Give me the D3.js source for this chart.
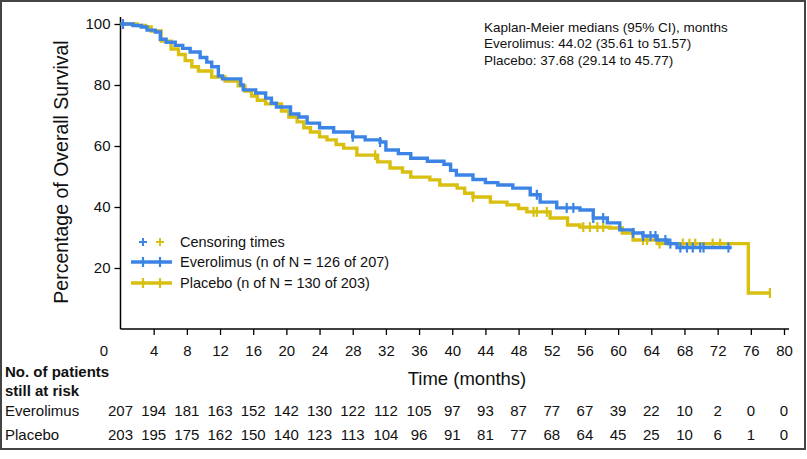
<!DOCTYPE html>
<html><head><meta charset="utf-8">
<script src="https://cdn.jsdelivr.net/npm/d3@7"></script>
<style>body{margin:0;background:#fff}svg{display:block;font-family:"Liberation Sans",Arial,sans-serif}</style>
</head><body><svg id="c" width="807" height="459"></svg>
<script>
// ---- data ----
const xTicks = [0,4,8,12,16,20,24,28,32,36,40,44,48,52,56,60,64,68,72,76,80];
const yTicks = [20,40,60,80,100];
const everolimusSteps = [[0,100],[1.5,99.5],[2.5,99],[3.2,98],[4.2,97.4],[4.8,95],[5.5,94],[6.6,93],[7.5,92],[8.4,90.8],[9.6,89],[10.4,87.5],[11,86],[11.8,83],[12.3,82],[14.5,80],[14.8,78.4],[16.3,77.4],[17.5,75.7],[18.2,74],[18.8,72.8],[20.5,70.5],[21.5,69.5],[22.5,67.5],[24,66],[25.7,64.6],[28,63],[29.5,62],[31.3,61.3],[32,58.7],[33.5,57.5],[35,56],[37,55],[39,54],[39.8,52],[40.5,50.5],[42.5,49],[44,48],[45.5,47.2],[47.3,46.2],[49.4,44],[50.6,41.6],[52.6,39.7],[55.4,39],[57,36.4],[58.7,34.8],[60.2,32.5],[61.8,31.5],[63,30.5],[64.7,29.2],[66,28],[67.1,26.7],[73.7,26.7]];
const placeboSteps = [[0,100],[2,99.5],[3,99],[3.7,97.7],[4.9,94.4],[6.1,91.8],[7,90],[7.8,88],[8.6,86],[9.4,84.6],[11,82.6],[12.6,81.3],[14.2,79.7],[15,78],[15.8,76.4],[16.5,75],[17.5,73.8],[19.4,71.5],[20.3,69.5],[21.3,67.9],[22.1,66],[22.9,64.6],[24,63],[24.9,62],[26,60.5],[26.9,59.3],[28.5,57],[31,54.8],[32.5,52.8],[34,51.5],[35,49.8],[37.3,48.9],[38.5,47.2],[40.6,46.2],[41.5,44.5],[42.5,43.3],[44.6,41.6],[46.6,40.7],[48,39.5],[49,38.4],[51.8,36.4],[53.9,34.1],[55.4,33.4],[59,33.1],[60.5,31.5],[61.8,29.2],[64.7,28],[75.7,11.8],[78.3,11.8]];
const everolimusCensor = [0.3,28,31.3,50.2,53.8,54.6,57,58.2,61.8,63,63.9,64.5,65.7,66.3,67.5,68.3,69,69.9,70.3,73.3];
const placeboCensor = [30.7,42.5,49.8,50.2,51.4,55.8,56.6,57.5,58.2,63,63.5,65,67.8,68.6,69.3,71.4,72.3,78.3];
const riskEverolimus = [207,194,181,163,152,142,130,122,112,105,97,93,87,77,67,39,22,10,2,0,0];
const riskPlacebo = [203,195,175,162,150,140,123,113,104,96,91,81,77,68,64,45,25,10,6,1,0];
const medianLines = ["Kaplan-Meier medians (95% CI), months","Everolimus: 44.02 (35.61 to 51.57)","Placebo: 37.68 (29.14 to 45.77)"];
const legendLabels = ["Censoring times","Everolimus (n of N = 126 of 207)","Placebo (n of N = 130 of 203)"];

const BLUE = "#3b84e6", YEL = "#d8bf10";
const svg = d3.select("#c");
svg.append("rect").attr("x",1).attr("y",1).attr("width",804).attr("height",448).attr("fill","none").attr("stroke","#444").attr("stroke-width",2);

const x = d3.scaleLinear().domain([0,80]).range([120.5,784]);
const y = d3.scaleLinear().domain([0,100]).range([329,24]);

// axes
const gy = svg.append("g").attr("transform","translate(120.5,0)")
  .call(d3.axisLeft(y).tickValues(yTicks).tickSize(6).tickPadding(4));
gy.select(".domain").attr("d","M0,17V329").attr("stroke-width",1.5);
gy.selectAll("text").attr("font-size",15).attr("fill","#111");
gy.selectAll("line").attr("stroke-width",1.3);
const gx = svg.append("g").attr("transform","translate(0,329)")
  .call(d3.axisBottom(x).tickValues(xTicks).tickSize(6).tickPadding(10));
gx.select(".domain").attr("d","M120.5,0H789").attr("stroke-width",1.5);
gx.selectAll("text").attr("font-size",15).attr("fill","#111");
gx.selectAll("line").attr("stroke-width",1.3);
gx.selectAll(".tick").filter(d=>d===0).select("line").remove();
gx.selectAll(".tick").filter(d=>d===0).select("text").attr("dx",-17);

svg.append("text").attr("transform","translate(68,172) rotate(-90)").attr("text-anchor","middle")
  .attr("font-size",19.5).attr("fill","#111").text("Percentage of Overall Survival");
svg.append("text").attr("x",467).attr("y",385).attr("text-anchor","middle").attr("font-size",18.5).attr("fill","#111").text("Time (months)");

// curves
const line = d3.line().x(d=>x(d[0])).y(d=>y(d[1])).curve(d3.curveStepAfter);
function survAt(steps,t){let s=steps[0][1];for(const p of steps){if(p[0]<=t)s=p[1];}return s;}
function drawCurve(steps,cens,col){
  svg.append("path").datum(steps).attr("d",line).attr("fill","none").attr("stroke",col).attr("stroke-width",3.4);
  svg.append("g").selectAll("line").data(cens).join("line")
    .attr("x1",d=>x(d)).attr("x2",d=>x(d)).attr("y1",d=>y(survAt(steps,d))-5).attr("y2",d=>y(survAt(steps,d))+5)
    .attr("stroke",col).attr("stroke-width",2.2);
}
drawCurve(placeboSteps,placeboCensor,YEL);
drawCurve(everolimusSteps,everolimusCensor,BLUE);

// legend
const lg = svg.append("g");
function cross(cx,cy,col,h){lg.append("line").attr("x1",cx-4).attr("x2",cx+4).attr("y1",cy).attr("y2",cy).attr("stroke",col).attr("stroke-width",2);
  lg.append("line").attr("x1",cx).attr("x2",cx).attr("y1",cy-h).attr("y2",cy+h).attr("stroke",col).attr("stroke-width",2);}
cross(143,242,BLUE,4); cross(160,242,YEL,4);
[[262,BLUE],[283,YEL]].forEach(([yy,col])=>{
  lg.append("line").attr("x1",131).attr("x2",172).attr("y1",yy).attr("y2",yy).attr("stroke",col).attr("stroke-width",3.4);
  [143,160].forEach(cx=>lg.append("line").attr("x1",cx).attr("x2",cx).attr("y1",yy-5).attr("y2",yy+5).attr("stroke",col).attr("stroke-width",2.2));
});
legendLabels.forEach((t,i)=>lg.append("text").attr("x",180).attr("y",[242,262,283][i]).attr("dy","0.35em").attr("font-size",14.5).attr("fill","#111").text(t));

// medians annotation
medianLines.forEach((t,i)=>svg.append("text").attr("x",484).attr("y",27+i*16.5).attr("dy","0.35em").attr("font-size",13.5).attr("fill","#111").text(t));

// risk table
svg.append("text").attr("x",5).attr("y",372).attr("dy","0.35em").attr("font-size",15).attr("font-weight","bold").attr("fill","#111").text("No. of patients");
svg.append("text").attr("x",5).attr("y",391).attr("dy","0.35em").attr("font-size",15).attr("font-weight","bold").attr("fill","#111").text("still at risk");
[["Everolimus",riskEverolimus,411],["Placebo",riskPlacebo,435]].forEach(([name,vals,yy])=>{
  svg.append("text").attr("x",5).attr("y",yy).attr("dy","0.35em").attr("font-size",15).attr("fill","#111").text(name);
  svg.append("g").selectAll("text").data(vals).join("text").attr("x",(d,i)=>x(xTicks[i])).attr("y",yy).attr("dy","0.35em")
    .attr("text-anchor","middle").attr("font-size",15).attr("fill","#111").text(d=>d);
});
</script></body></html>
